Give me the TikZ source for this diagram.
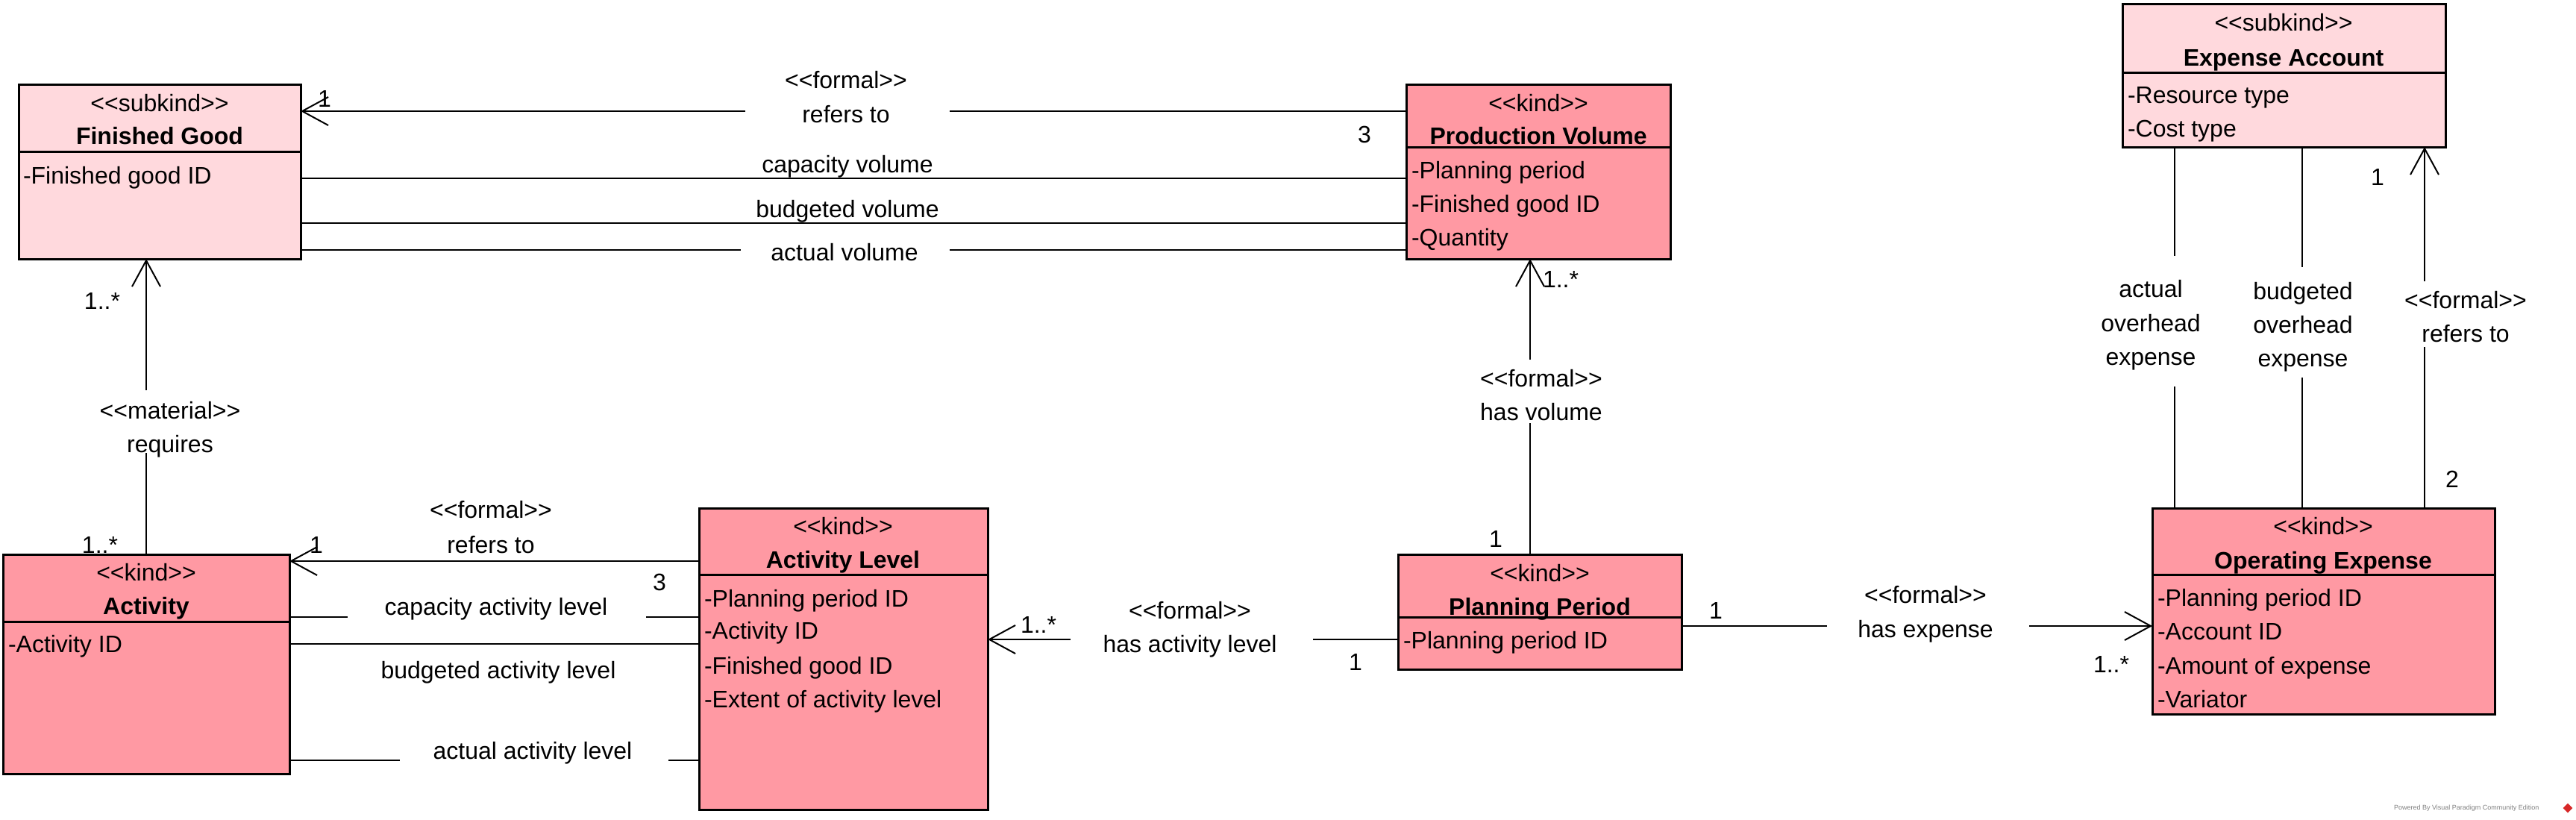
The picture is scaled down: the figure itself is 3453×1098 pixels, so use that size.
\documentclass[tikz,border=0pt]{standalone}
\usepackage{fontspec}
\setmainfont{Liberation Sans}
\usetikzlibrary{arrows.meta}
\definecolor{kindc}{RGB}{255,153,163}
\definecolor{subc}{RGB}{255,217,221}
\definecolor{vpred}{RGB}{215,40,40}
\newcommand\stereo[1]{<\kern0pt<#1>\kern0pt>}
\begin{document}
\begin{tikzpicture}[x=1pt,y=-1pt,
  every node/.style={font=\fontsize{32}{38}\selectfont, inner sep=0pt, outer sep=0pt},
  cls/.style={draw=black, line width=3pt, inner sep=0pt},
  kindbox/.style={cls, fill=kindc},
  subbox/.style={cls, fill=subc},
  divl/.style={line width=3pt},
  txt/.style={text height=23pt, text depth=1pt},
  attr/.style={txt, anchor=west},
  nm/.style={txt, font=\fontsize{32}{38}\selectfont\bfseries},
  assoc/.style={line width=2pt},
  gapn/.style={inner sep=0pt, outer sep=0pt, minimum width=0pt, minimum height=0pt},
  arr/.style={assoc, -{Straight Barb[length=35pt,width=38pt]}},
]
\useasboundingbox[fill=white] (0,0) rectangle (3453,1098);

% ---------- Classes ----------
% Finished Good
\node[subbox, minimum width=378pt, minimum height=234pt] (fg) at (214,230) {};
\draw[divl] (fg.west |- 0,203) -- (fg.east |- 0,203);
\node[txt] (fgs) at (214,138) {\stereo{subkind}};
\node[nm] (fgn) at (214,182) {Finished Good};
\node[attr] (fga1) at (31,235) {-Finished good ID};

% Production Volume
\node[kindbox, minimum width=354pt, minimum height=234pt] (pv) at (2062,230) {};
\draw[divl] (pv.west |- 0,197) -- (pv.east |- 0,197);
\node[txt] (pvs) at (2062,138) {\stereo{kind}};
\node[nm] (pvn) at (2062,182) {Production Volume};
\node[attr] (pva1) at (1892,228) {-Planning period};
\node[attr] (pva2) at (1892,273) {-Finished good ID};
\node[attr] (pva3) at (1892,318) {-Quantity};

% Expense Account
\node[subbox, minimum width=433pt, minimum height=192pt] (ea) at (3061.5,101) {};
\draw[divl] (ea.west |- 0,97) -- (ea.east |- 0,97);
\node[txt] (eas) at (3061,30) {\stereo{subkind}};
\node[nm] (ean) at (3061,77) {Expense Account};
\node[attr] (eaa1) at (2852,127) {-Resource type};
\node[attr] (eaa2) at (2852,172) {-Cost type};

% Activity
\node[kindbox, minimum width=384pt, minimum height=294pt] (act) at (196,890) {};
\draw[divl] (act.west |- 0,833) -- (act.east |- 0,833);
\node[txt] (acts) at (196,767) {\stereo{kind}};
\node[nm] (actn) at (196,812) {Activity};
\node[attr] (acta1) at (11,863) {-Activity ID};

% Activity Level
\node[kindbox, minimum width=387pt, minimum height=404pt] (al) at (1130.5,883) {};
\draw[divl] (al.west |- 0,770) -- (al.east |- 0,770);
\node[txt] (als) at (1130,705) {\stereo{kind}};
\node[nm] (aln) at (1130,750) {Activity Level};
\node[attr] (ala1) at (944,802) {-Planning period ID};
\node[attr] (ala2) at (944,845) {-Activity ID};
\node[attr] (ala3) at (944,892) {-Finished good ID};
\node[attr] (ala4) at (944,937) {-Extent of activity level};

% Planning Period
\node[kindbox, minimum width=380pt, minimum height=154pt] (pp) at (2064,820) {};
\draw[divl] (pp.west |- 0,827) -- (pp.east |- 0,827);
\node[txt] (pps) at (2064,768) {\stereo{kind}};
\node[nm] (ppn) at (2064,813) {Planning Period};
\node[attr] (ppa1) at (1881,858) {-Planning period ID};

% Operating Expense
\node[kindbox, minimum width=459pt, minimum height=276pt] (oe) at (3114.5,819) {};
\draw[divl] (oe.west |- 0,770) -- (oe.east |- 0,770);
\node[txt] (oes) at (3114,705) {\stereo{kind}};
\node[nm] (oen) at (3114,751) {Operating Expense};
\node[attr] (oea1) at (2892,801) {-Planning period ID};
\node[attr] (oea2) at (2892,846) {-Account ID};
\node[attr] (oea3) at (2892,892) {-Amount of expense};
\node[attr] (oea4) at (2892,937) {-Variator};

% ---------- Associations ----------
% PV -> FG refers to
\node[gapn, minimum width=274pt] (g1) at (1136,149) {};
\draw[assoc] (pv.west |- g1) -- (g1.east);
\draw[arr] (g1.west) -- (fg.east |- g1);
\node[txt] (l1a) at (1134,107) {\stereo{formal}};
\node[txt] (l1b) at (1134,153) {refers to};
\node[txt] (m1a) at (435,132) {1};
\node[txt] (m1b) at (1829,180) {3};

% capacity / budgeted / actual volume
\draw[assoc] (fg.east |- 0,239) -- (pv.west |- 0,239);
\node[txt] (l2) at (1136,220) {capacity volume};
\draw[assoc] (fg.east |- 0,299) -- (pv.west |- 0,299);
\node[txt] (l3) at (1136,280) {budgeted volume};
\node[gapn, minimum width=280pt] (g4) at (1133,335) {};
\draw[assoc] (fg.east |- g4) -- (g4.west);
\draw[assoc] (g4.east) -- (pv.west |- g4);
\node[txt] (l4) at (1132,338) {actual volume};

% Activity -> FG requires
\node[gapn, minimum height=84pt] (g5) at (196,565) {};
\draw[assoc] (g5 |- act.north) -- (g5.south);
\draw[arr] (g5.north) -- (g5 |- fg.south);
\node[txt] (l5a) at (228,550) {\stereo{material}};
\node[txt] (l5b) at (228,595) {requires};
\node[txt] (m5a) at (137,403) {1..*};
\node[txt] (m5b) at (134,730) {1..*};

% AL -> Activity refers to
\coordinate (c6) at (0,752);
\draw[arr] (al.west |- c6) -- (act.east |- c6);
\node[txt] (l6a) at (658,683) {\stereo{formal}};
\node[txt] (l6b) at (658,730) {refers to};
\node[txt] (m6a) at (424,730) {1};
\node[txt] (m6b) at (884,780) {3};

% activity levels
\node[gapn, minimum width=400pt] (g7) at (666,827) {};
\draw[assoc] (act.east |- g7) -- (g7.west);
\draw[assoc] (g7.east) -- (al.west |- g7);
\node[txt] (l7) at (665,813) {capacity activity level};
\draw[assoc] (act.east |- 0,863) -- (al.west |- 0,863);
\node[txt] (l8) at (668,898) {budgeted activity level};
\node[gapn, minimum width=360pt] (g9) at (716,1019) {};
\draw[assoc] (act.east |- g9) -- (g9.west);
\draw[assoc] (g9.east) -- (al.west |- g9);
\node[txt] (l9) at (714,1006) {actual activity level};

% PP -> AL has activity level
\node[gapn, minimum width=325pt] (g10) at (1597.5,857) {};
\draw[assoc] (pp.west |- g10) -- (g10.east);
\draw[arr] (g10.west) -- (al.east |- g10);
\node[txt] (l10a) at (1595,818) {\stereo{formal}};
\node[txt] (l10b) at (1595,863) {has activity level};
\node[txt] (m10a) at (1392,837) {1..*};
\node[txt] (m10b) at (1817,887) {1};

% PP -> PV has volume
\node[gapn, minimum height=85pt] (g11) at (2051,524.5) {};
\draw[assoc] (g11 |- pp.north) -- (g11.south);
\draw[arr] (g11.north) -- (g11 |- pv.south);
\node[txt] (l11a) at (2066,507) {\stereo{formal}};
\node[txt] (l11b) at (2066,552) {has volume};
\node[txt] (m11a) at (2092,374) {1..*};
\node[txt] (m11b) at (2005,722) {1};

% PP -> OE has expense
\node[gapn, minimum width=271pt] (g12) at (2584.5,839) {};
\draw[assoc] (pp.east |- g12) -- (g12.west);
\draw[arr] (g12.east) -- (oe.west |- g12);
\node[txt] (l12a) at (2581,797) {\stereo{formal}};
\node[txt] (l12b) at (2581,843) {has expense};
\node[txt] (m12a) at (2300,818) {1};
\node[txt] (m12b) at (2830,890) {1..*};

% EA - OE actual overhead expense
\node[gapn, minimum height=175pt] (g13) at (2915,430.5) {};
\draw[assoc] (g13 |- ea.south) -- (g13.north);
\draw[assoc] (g13.south) -- (g13 |- oe.north);
\node[txt] (l13a) at (2883,387) {actual};
\node[txt] (l13b) at (2883,433) {overhead};
\node[txt] (l13c) at (2883,478) {expense};

% EA - OE budgeted overhead expense
\node[gapn, minimum height=148pt] (g14) at (3086,432) {};
\draw[assoc] (g14 |- ea.south) -- (g14.north);
\draw[assoc] (g14.south) -- (g14 |- oe.north);
\node[txt] (l14a) at (3087,390) {budgeted};
\node[txt] (l14b) at (3087,435) {overhead};
\node[txt] (l14c) at (3087,480) {expense};

% OE -> EA refers to
\node[gapn, minimum height=88pt] (g15) at (3250,421) {};
\draw[assoc] (g15 |- oe.north) -- (g15.south);
\draw[arr] (g15.north) -- (g15 |- ea.south);
\node[txt] (l15a) at (3305,402) {\stereo{formal}};
\node[txt] (l15b) at (3305,447) {refers to};
\node[txt] (m15a) at (3187,237) {1};
\node[txt] (m15b) at (3287,642) {2};

% watermark
\node[font=\fontsize{9}{11}\selectfont, text=gray, anchor=west] (wm) at (3209,1083) {Powered By Visual Paradigm Community Edition};
\node[fill=vpred, minimum width=9pt, minimum height=9pt, rotate=45, inner sep=0pt] (wmi) at (3442,1083) {};
\end{tikzpicture}
\end{document}
